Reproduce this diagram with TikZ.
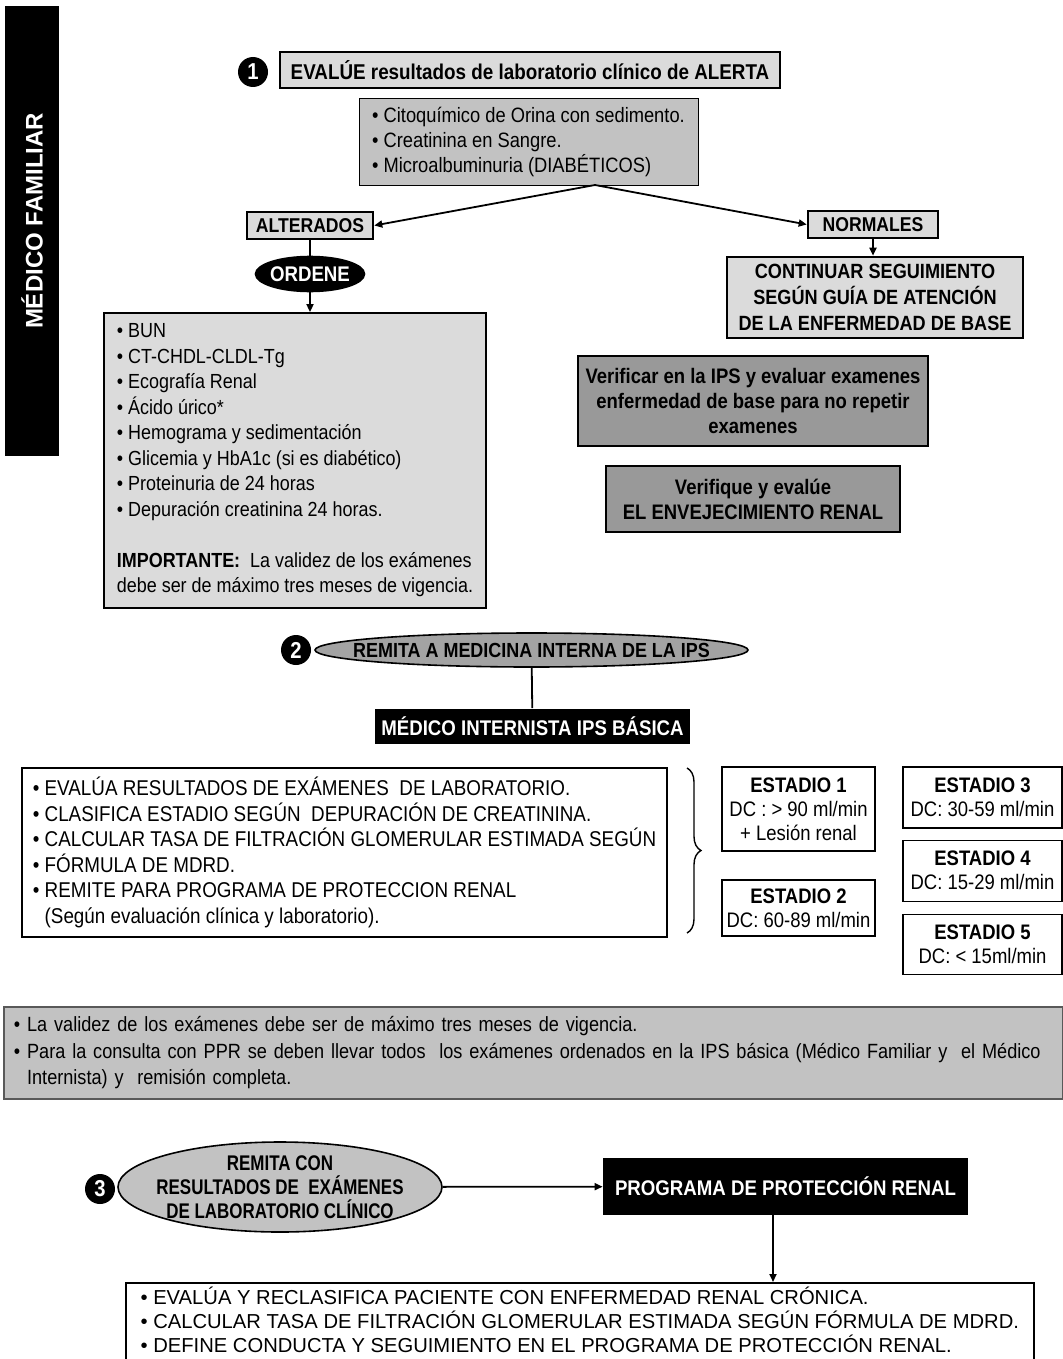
\documentclass[tikz,border=0pt]{standalone}
\usepackage{fontspec}
\setmainfont{Liberation Sans}[FakeStretch=0.88]
\newfontfamily\ancha{Liberation Sans}
\newfontfamily\estrecha{Liberation Sans}[FakeStretch=0.8]
\usetikzlibrary{arrows.meta,positioning,shapes.geometric,decorations.pathreplacing}
\definecolor{grisclaro}{gray}{0.86}
\definecolor{grismedio}{gray}{0.76}
\definecolor{grisoscuro}{gray}{0.6}
\definecolor{grisovalo}{gray}{0.64}
\definecolor{grisborde}{gray}{0.35}
\tikzset{
    caja/.style={draw,line width=0.9pt,fill=grisclaro,align=center,inner sep=2pt},
    rotulo/.style={caja,line width=1.3pt,font=\bfseries\fontsize{10}{12}\selectfont,minimum height=13.5pt},
    lista/.style={draw,line width=0.9pt,align=left,anchor=north west},
    oscura/.style={caja,fill=grisoscuro,font=\bfseries\fontsize{10.5}{12.5}\selectfont},
    negra/.style={fill=black,text=white,font=\bfseries\fontsize{10.6}{12}\selectfont,align=center},
    paso/.style={circle,fill=black,text=white,font=\bfseries\fontsize{11.5}{12}\selectfont,minimum size=15pt,inner sep=0pt},
    estadio/.style={draw,line width=0.6pt,align=center,font=\fontsize{10.5}{12}\selectfont,inner sep=1pt,minimum width=76.5pt},
    ovalo/.style={ellipse,draw,line width=0.8pt,inner sep=0pt},
    pre/.style={-{Triangle[length=4pt,width=3.5pt]},line width=0.9pt},
    bi/.style={-,line width=0.9pt}
}
\newcommand{\bul}{\textbullet\ }

\begin{document}
\begin{tikzpicture}[x=0.5pt,y=-0.5pt]
    \useasboundingbox (0,0) rectangle (1063,1359);
    \clip (0,0) rectangle (1063,1359);

    % medico familiar
    \node[fill=black,minimum width=27pt,minimum height=225pt] (familiar) at (32,231) {};
    \node[text=white,rotate=90,font=\ancha\bfseries\fontsize{12}{14}\selectfont] (familiar txt) at (32,221) {MÉDICO FAMILIAR};

    \node[paso] (paso 1) at (253,72) {1};
    \node[caja,line width=0.8pt,minimum width=250pt,minimum height=18pt,font=\bfseries\fontsize{10.7}{12}\selectfont] (evalue) at (530,70) {EVALÚE resultados de laboratorio clínico de ALERTA};
    \node[caja,fill=grismedio,line width=0.5pt,align=left,minimum width=169.5pt,minimum height=43pt,inner xsep=1.5pt,font=\fontsize{10.4}{12.5}\selectfont] (alerta) at (528.5,142)
        {\bul Citoquímico de Orina con sedimento.\\ \bul Creatinina en Sangre.\\ \bul Microalbuminuria (DIABÉTICOS)};

    \coordinate (split) at (595,185);
    \node[rotulo,minimum width=63pt] (alterados) at (310,225.5) {ALTERADOS};
    \node[rotulo,minimum width=65pt] (normales) at (873,224.5) {NORMALES};
    \draw[pre] (split) -- (alterados.east);
    \draw[pre] (split) -- (normales.west);

    \node[ovalo,fill=black,minimum width=54.5pt,minimum height=17.5pt] (ordene) at (310,274) {};
    \node[text=white,font=\bfseries\fontsize{10.6}{12}\selectfont] (ordene txt) at (ordene) {ORDENE};
    \draw[bi] (alterados) -- (ordene);

    \node[caja,align=left,minimum width=191pt,minimum height=147.5pt,font=\fontsize{10.2}{12.75}\selectfont] (examenes) at (295,460.5)
        {\bul BUN\\ \bul CT-CHDL-CLDL-Tg\\ \bul Ecografía Renal\\ \bul Ácido úrico*\\ \bul Hemograma y sedimentación\\
         \bul Glicemia y HbA1c (si es diabético)\\ \bul Proteinuria de 24 horas\\ \bul Depuración creatinina 24 horas.\\[12.75pt]
         \textbf{IMPORTANTE:}\ \ La validez de los exámenes\\ debe ser de máximo tres meses de vigencia.};
    \draw[pre] (ordene) -- (examenes.north -| ordene);

    \node[rotulo,minimum width=148pt,minimum height=40.5pt,font=\bfseries\fontsize{10.3}{12.8}\selectfont] (continuar) at (875,297.5)
        {CONTINUAR SEGUIMIENTO\\ SEGÚN GUÍA DE ATENCIÓN\\ DE LA ENFERMEDAD DE BASE};
    \draw[pre] (normales) -- (normales |- continuar.north);

    \node[oscura,minimum width=175pt,minimum height=45pt] (verificar) at (753,401)
        {Verificar en la IPS y evaluar examenes\\ enfermedad de base para no repetir\\ examenes};
    \node[oscura,minimum width=147pt,minimum height=33pt] (envejecimiento) at (753,499)
        {Verifique y evalúe\\ EL ENVEJECIMIENTO RENAL};

    % medico internista
    \node[paso] (paso 2) at (296,650) {2};
    \node[ovalo,fill=grisovalo,minimum width=216.5pt,minimum height=17pt] (remita) at (531.5,650) {};
    \node[font=\bfseries\fontsize{10.2}{12}\selectfont] (remita txt) at (remita) {REMITA A MEDICINA INTERNA DE LA IPS};
    \node[negra,minimum width=157.5pt,minimum height=17.5pt] (internista) at (532.5,726) {MÉDICO INTERNISTA IPS BÁSICA};
    \draw[bi] (remita) -- (internista);

    \node[lista,anchor=center,minimum width=322.5pt,minimum height=84.5pt,inner xsep=5pt,font=\fontsize{10.7}{12.8}\selectfont] (acciones) at (344.5,852.5)
        {\bul EVALÚA RESULTADOS DE EXÁMENES\ \ DE LABORATORIO.\\ \bul CLASIFICA ESTADIO SEGÚN\ \ DEPURACIÓN DE CREATININA.\\
         \bul CALCULAR TASA DE FILTRACIÓN GLOMERULAR ESTIMADA SEGÚN\\ \bul FÓRMULA DE MDRD.\\
         \bul REMITE PARA PROGRAMA DE PROTECCION RENAL\\ \phantom{\bul}(Según evaluación clínica y laboratorio).};
    \draw[decorate,decoration={brace,amplitude=7pt},line width=0.7pt] (687,768) -- (687,933);

    \node[estadio,minimum height=42pt] (estadio 1) at (798.5,809) {\textbf{ESTADIO 1}\\ DC : > 90 ml/min\\ + Lesión renal};
    \node[estadio,minimum height=28pt] (estadio 2) at (798.5,908) {\textbf{ESTADIO 2}\\ DC: 60-89 ml/min};
    \node[estadio,minimum width=79.5pt,minimum height=30.5pt] (estadio 3) at (982.5,797.5) {\textbf{ESTADIO 3}\\ DC: 30-59 ml/min};
    \node[estadio,minimum width=79.5pt,minimum height=30.5pt] (estadio 4) [below=5.5pt of estadio 3] {\textbf{ESTADIO 4}\\ DC: 15-29 ml/min};
    \node[estadio,minimum width=79.5pt,minimum height=30pt] (estadio 5) [below=6pt of estadio 4] {\textbf{ESTADIO 5}\\ DC: < 15ml/min};

    % nota
    \node[lista,fill=grismedio,draw=grisborde,text width=519.5pt,minimum height=46pt,inner xsep=5pt,font=\fontsize{10.3}{13.2}\selectfont] (nota) at (3,1006)
        {\bul La validez de los exámenes debe ser de máximo tres meses de vigencia.\\
         \bul Para la consulta con PPR se deben llevar todos\ \ los exámenes ordenados en la IPS básica (Médico Familiar y\ \ el Médico\\
         \phantom{\bul}Internista) y\ \ remisión completa.};

    % programa de proteccion renal
    \node[paso] (paso 3) at (100,1189) {3};
    \node[ovalo,fill=grismedio,minimum width=162pt,minimum height=45pt] (remision) at (280,1187) {};
    \node[align=center,font=\estrecha\bfseries\fontsize{10.6}{12}\selectfont] (remision txt) at (remision)
        {REMITA CON\\ RESULTADOS DE\ \ EXÁMENES\\ DE LABORATORIO CLÍNICO};
    \node[negra,minimum width=182.5pt,minimum height=28.5pt,font=\bfseries\fontsize{10.6}{12}\selectfont] (programa) at (785.5,1186.5) {PROGRAMA DE PROTECCIÓN RENAL};
    \draw[pre] (remision) -- (programa);

    \node[lista,line width=0.8pt,minimum width=454pt,inner xsep=2pt,inner ysep=2pt,font=\ancha\fontsize{10.1}{12}\selectfont] (reclasifica) at (125,1282)
        {\bul EVALÚA Y RECLASIFICA PACIENTE CON ENFERMEDAD RENAL CRÓNICA.\\
         \bul CALCULAR TASA DE FILTRACIÓN GLOMERULAR ESTIMADA SEGÚN FÓRMULA DE MDRD.\\
         \bul DEFINE CONDUCTA Y SEGUIMIENTO EN EL PROGRAMA DE PROTECCIÓN RENAL.\\[6pt]\mbox{}};
    \draw[pre] (programa.south -| 773,0) -- (reclasifica.north -| 773,0);
\end{tikzpicture}
\end{document}
